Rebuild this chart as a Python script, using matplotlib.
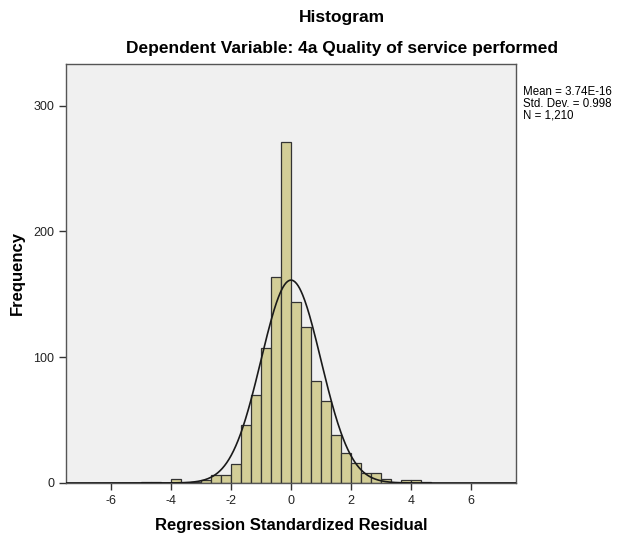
import numpy as np
import matplotlib.pyplot as plt

plt.rcParams['font.family'] = ['Liberation Sans', 'DejaVu Sans']
plt.rcParams['axes.unicode_minus'] = False

# histogram bins (width 1/3), starting at -5
bin_width = 1 / 3.0
counts = [1, 1, 0, 3, 0, 1, 2, 6, 6,
          15, 46, 70, 107, 164, 271, 144, 124, 81, 65, 38, 24,
          16, 8, 8, 3, 0, 2, 2, 1]
bin_left = -5 + np.arange(len(counts)) * bin_width

mean = 3.74e-16
std = 0.998
n = 1210

fig = plt.figure(figsize=(6.19, 5.40), dpi=100)
ax = fig.add_axes([0.1066, 0.1056, 0.727, 0.7759])
ax.set_facecolor('#f0f0f0')

ax.bar(bin_left, counts, width=bin_width, align='edge', color='#d3ce97',
       edgecolor='#333333', linewidth=0.9, zorder=2)

# normal curve scaled to the histogram
xs = np.linspace(-7.5, 7.5, 600)
ys = n * bin_width * np.exp(-0.5 * ((xs - mean) / std) ** 2) / (std * np.sqrt(2 * np.pi))
ax.plot(xs, ys, color='#1a1a1a', linewidth=1.2, zorder=3)

ax.set_xlim(-7.5, 7.5)
ax.set_ylim(0, 333)
ax.set_xticks([-6, -4, -2, 0, 2, 4, 6])
ax.set_yticks([0, 100, 200, 300])
ax.tick_params(direction='out', length=5, width=1, color='#333333',
               labelsize=9, labelcolor='#222222')
for s in ax.spines.values():
    s.set_color('#555555')
    s.set_linewidth(1.0)

ax.set_xlabel('Regression Standardized Residual', fontsize=12,
              fontweight='bold', labelpad=8)
ax.set_ylabel('Frequency', fontsize=12, fontweight='bold', labelpad=6)

fig.text(0.553, 0.968, 'Histogram', ha='center', va='center',
         fontsize=12.5, fontweight='bold')
fig.text(0.553, 0.911, 'Dependent Variable: 4a Quality of service performed',
         ha='center', va='center', fontsize=12.5, fontweight='bold')

fig.text(0.845, 0.84, 'Mean = 3.74E-16\nStd. Dev. = 0.998\nN = 1,210',
         ha='left', va='top', fontsize=8.3, linespacing=0.95)

fig.savefig('out.png', dpi=100, facecolor='white')
